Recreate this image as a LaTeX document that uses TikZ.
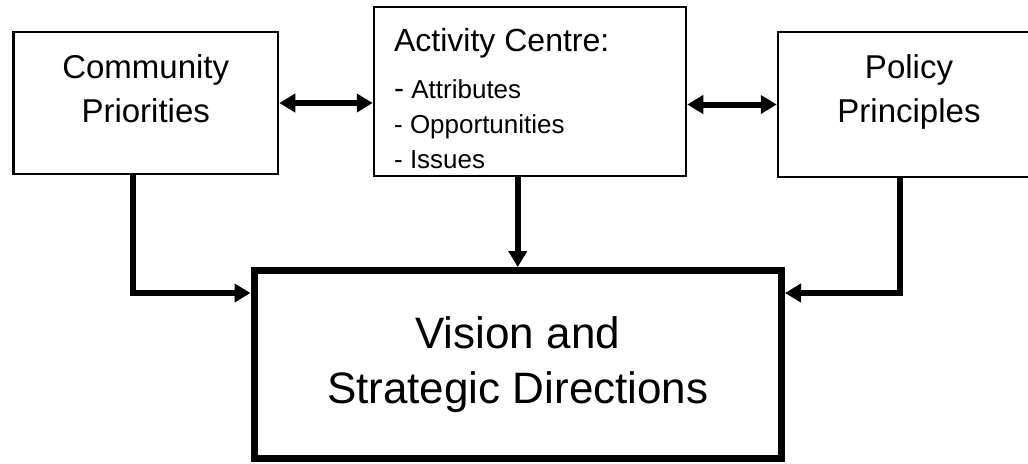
\documentclass[tikz,border=0pt]{standalone}
\usepackage{fontspec}
\setmainfont{Liberation Sans}
\usetikzlibrary{arrows.meta, positioning}

\begin{document}
\begin{tikzpicture}[x=0.5pt, y=-0.5pt, >={Triangle[length=8pt, width=9pt]}]
	\tikzstyle{box} = [draw=black, line width=1.25pt, rectangle, inner sep=0pt]
	\tikzstyle{bigbox} = [draw=black, line width=3.5pt, rectangle, align=center, font=\fontsize{22}{27.5}\selectfont]
	\tikzstyle{txt} = [inner sep=0pt, align=center, font=\fontsize{16.5}{22}\selectfont]
	\tikzstyle{link} = [line width=3pt]
	
	\useasboundingbox (0,0) rectangle (1028,463);
	
	\node[box, minimum width=132.25pt, minimum height=71pt]		at (145.75,103)		(comm)	{};
	\node[box, minimum width=156pt, minimum height=84.5pt]		at (530,91.5)		(act)	{};
	\node[box, minimum width=131pt, minimum height=72.5pt]		at (909,104.5)		(pol)	{};
	\node[bigbox, minimum width=263.75pt, minimum height=93.75pt]	at (517.75,364.25)	(vis)	{Vision and\\Strategic Directions};
	
	\node[txt, below=11.5pt of comm.north]	(commtxt)	{Community\\Priorities};
	\node[txt, below=11.5pt of pol.north]	(poltxt)	{Policy\\Principles};
	\node[txt, align=left, font=\fontsize{13}{17.5}\selectfont, below right=11pt and 10.5pt of act.north west] (acttxt)
		{{\fontsize{16}{19}\selectfont Activity Centre:}\\[6pt]{\fontsize{15}{17.5}\selectfont -}~Attributes\\- Opportunities\\- Issues};
	
	\coordinate (lbend) at (133,293);
	\coordinate (rbend) at (900,293);
	
	\draw[link, <->] (comm.east) -- (comm.east -| act.west);
	\draw[link, <->] (act.east |- pol.west) -- (pol.west);
	\draw[link, ->] (act.south -| vis.north) -- (vis.north);
	\draw[link, ->] (lbend |- comm.south) -- (lbend) -- (lbend -| vis.west);
	\draw[link, ->] (rbend |- pol.south) -- (rbend) -- (rbend -| vis.east);
\end{tikzpicture}
\end{document}
